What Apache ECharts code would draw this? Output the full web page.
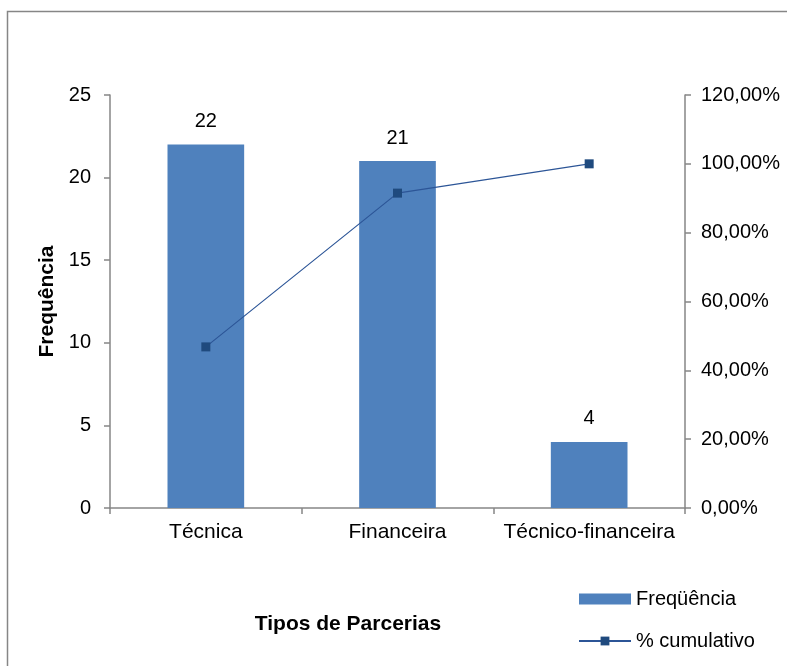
<!DOCTYPE html>
<html>
<head>
<meta charset="utf-8">
<script src="https://cdn.jsdelivr.net/npm/echarts@6/dist/echarts.min.js"></script>
<style>
html,body{margin:0;padding:0;background:#fff;}
#chart{width:787px;height:666px;}
</style>
</head>
<body>
<div id="chart"></div>
<script>
var categories = ['Técnica', 'Financeira', 'Técnico-financeira'];
var frequencia = [22, 21, 4];
var cumulativo = [0.4681, 0.9149, 1.0];
var leftTicks = {min: 0, max: 25, interval: 5};
var rightTicks = {min: 0, max: 1.2, interval: 0.2};

var FONT = 'Liberation Sans, Arial, sans-serif';
var axisGray = '#868686';
var chart = echarts.init(document.getElementById('chart'));
chart.setOption({
  animation: false,
  backgroundColor: '#fff',
  textStyle: {fontFamily: FONT},
  graphic: [
    {type: 'rect', shape: {x: 7.5, y: 11.5, width: 800, height: 700}, style: {fill: 'none', stroke: axisGray, lineWidth: 1.5}},
    {type: 'text', x: 348, y: 624, style: {text: 'Tipos de Parcerias', font: 'bold 21px ' + FONT, fill: '#000', align: 'center', verticalAlign: 'middle'}}
  ],
  grid: {left: 110, right: 102, top: 95, bottom: 158},
  legend: {
    orient: 'vertical', left: 578, top: 589, padding: 0, itemWidth: 52, itemHeight: 11, itemGap: 22,
    textStyle: {fontSize: 20, color: '#000', fontFamily: FONT},
    data: [{name: 'Freqüência', icon: 'rect'}, {name: '% cumulativo'}]
  },
  xAxis: {
    type: 'category', data: categories,
    axisLine: {lineStyle: {color: axisGray, width: 1.5}},
    axisTick: {show: true, length: 6, lineStyle: {color: axisGray, width: 1.5}},
    axisLabel: {fontSize: 21, color: '#000', margin: 14, fontFamily: FONT, interval: 0, hideOverlap: false}
  },
  yAxis: [
    {
      type: 'value', min: leftTicks.min, max: leftTicks.max, interval: leftTicks.interval,
      name: 'Frequência', nameLocation: 'middle', nameGap: 51, nameRotate: 90,
      nameTextStyle: {fontSize: 21, fontWeight: 'bold', color: '#000', fontFamily: FONT},
      axisLine: {show: true, lineStyle: {color: axisGray, width: 1.5}},
      axisTick: {show: true, length: 6, lineStyle: {color: axisGray, width: 1.5}},
      axisLabel: {fontSize: 20, color: '#000', margin: 19, fontFamily: FONT},
      splitLine: {show: false}
    },
    {
      type: 'value', min: rightTicks.min, max: rightTicks.max, interval: rightTicks.interval,
      position: 'right',
      axisLine: {show: true, lineStyle: {color: axisGray, width: 1.5}},
      axisTick: {show: true, length: 6, lineStyle: {color: axisGray, width: 1.5}},
      axisLabel: {fontSize: 20, color: '#000', margin: 16, fontFamily: FONT,
        formatter: function (v) { return (v * 100).toFixed(2).replace('.', ',') + '%'; }},
      splitLine: {show: false}
    }
  ],
  series: [
    {
      name: 'Freqüência', type: 'bar', data: frequencia, barWidth: '40%',
      itemStyle: {color: '#4F81BD'},
      label: {show: true, position: 'top', distance: 13, fontSize: 20, color: '#000', fontFamily: FONT}
    },
    {
      name: '% cumulativo', type: 'line', yAxisIndex: 1, data: cumulativo,
      symbol: 'rect', symbolSize: 9,
      lineStyle: {color: '#2C5597', width: 1.2},
      itemStyle: {color: '#1F4A7E'}
    }
  ]
});
</script>
</body>
</html>
